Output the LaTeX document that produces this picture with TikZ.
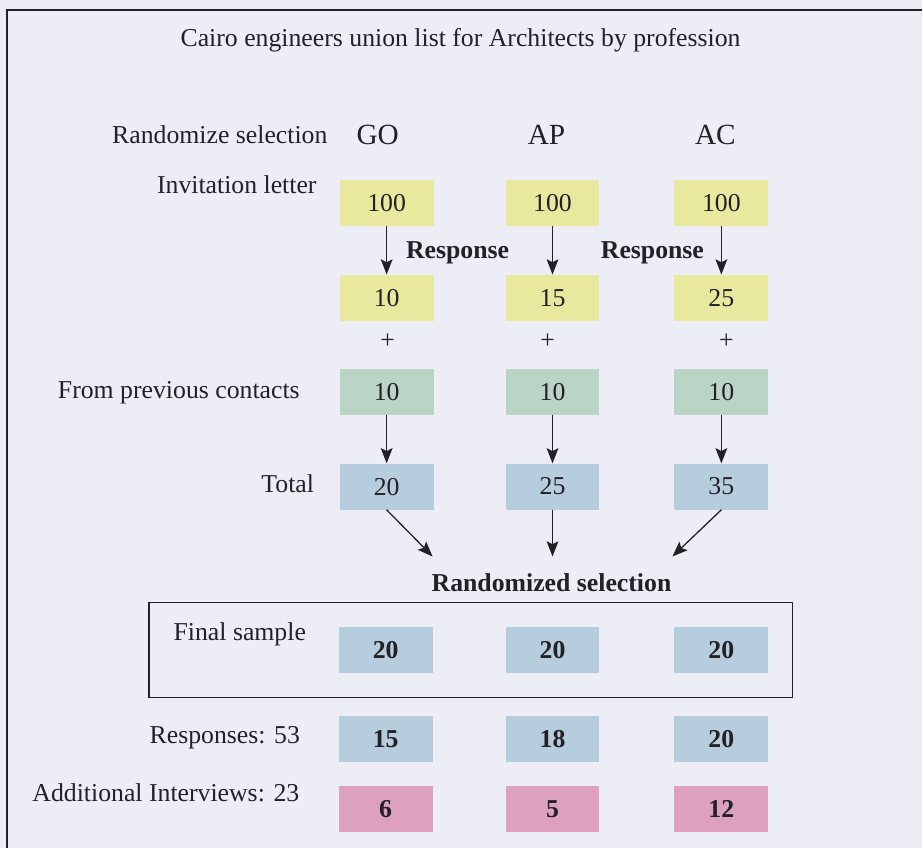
\documentclass[tikz,border=0pt]{standalone}
\usepackage{fontspec}
\setmainfont{Liberation Serif}
\usepackage{tikz}
\usetikzlibrary{positioning,arrows.meta}
\definecolor{pagebg}{RGB}{237,237,246}
\definecolor{invyellow}{RGB}{232,232,158}
\definecolor{prevgreen}{RGB}{186,212,198}
\definecolor{totblue}{RGB}{182,205,222}
\definecolor{addpink}{RGB}{221,160,192}
\definecolor{ink}{RGB}{35,32,38}

\begin{document}
\begin{tikzpicture}[x=0.3mm,y=-0.3mm,
    txt/.style={font=\fontsize{22}{26}\selectfont, text=ink, inner sep=0pt},
    boldtxt/.style={font=\fontsize{22}{26}\selectfont\bfseries, text=ink, inner sep=0pt},
    cell/.style={txt, minimum width=28.2mm, minimum height=13.8mm},
    boldcell/.style={boldtxt, minimum width=28.2mm, minimum height=13.8mm},
    arr/.style={draw=ink, line width=1.1pt, -{Stealth[length=13pt,width=10pt,inset=2.5pt]}}]

    % Page and frame
    \fill[pagebg] (0,0) rectangle (923,849);
    \draw[ink, line width=1.4pt] (923,10) -- (7,10) -- (7,849);

    % Header
    \node[txt] (title) at (461,40) {Cairo engineers union list for Architects by profession};
    \node[txt] (randsel) at (220,135) {Randomize selection};
    \node[txt, font=\fontsize{25}{30}\selectfont] (go) at (378,135) {GO};
    \node[txt, font=\fontsize{25}{30}\selectfont] (ap) at (547,135) {AP};
    \node[txt, font=\fontsize{25}{30}\selectfont] (ac) at (716,135) {AC};
    \node[txt] (invlabel) at (237,185) {Invitation letter};

    % Invitation letters
    \node[cell, fill=invyellow] (inv1) at (387,203) {100};
    \node[cell, fill=invyellow] (inv2) at (553,203) {100};
    \node[cell, fill=invyellow] (inv3) at (722,203) {100};

    % Responses to the letter
    \node[cell, fill=invyellow] (ret1) at (387,298) {10};
    \node[cell, fill=invyellow] (ret2) at (553,298) {15};
    \node[cell, fill=invyellow] (ret3) at (722,298) {25};
    \node[boldtxt] (retlabel1) at (458,253) {Response};
    \node[boldtxt] (retlabel2) at (653,253) {Response};
    \draw[arr] (inv1) -- (ret1);
    \draw[arr] (inv2) -- (ret2);
    \draw[arr] (inv3) -- (ret3);

    % Plus signs
    \node[txt] (plus1) at (388,342) {+};
    \node[txt] (plus2) at (548,342) {+};
    \node[txt] (plus3) at (727,342) {+};

    % Previous contacts
    \node[txt] (prevlabel) at (179,393) {From previous contacts};
    \node[cell, fill=prevgreen] (prev1) at (387,392) {10};
    \node[cell, fill=prevgreen] (prev2) at (553,392) {10};
    \node[cell, fill=prevgreen] (prev3) at (722,392) {10};

    % Totals
    \node[txt] (totlabel) at (288,484) {Total};
    \node[cell, fill=totblue] (tot1) at (387,487) {20};
    \node[cell, fill=totblue] (tot2) at (553,487) {25};
    \node[cell, fill=totblue] (tot3) at (722,487) {35};
    \draw[arr] (prev1) -- (tot1);
    \draw[arr] (prev2) -- (tot2);
    \draw[arr] (prev3) -- (tot3);

    % Randomized selection
    \node[boldtxt] (randomized) at (552,583) {Randomized selection};
    \coordinate (sel1) at (433,557);
    \coordinate (sel2) at (553,557);
    \coordinate (sel3) at (673,557);
    \draw[arr] (tot1.south) -- (sel1);
    \draw[arr] (tot2.south) -- (sel2);
    \draw[arr] (tot3.south) -- (sel3);

    % Final sample
    \node[draw=ink, line width=1.2pt, inner sep=0pt, minimum width=193.2mm, minimum height=28.5mm] (finalbox) at (471,650.5) {};
    \node[txt] (finlabel) at (240,635) {Final sample};
    \node[boldcell, fill=totblue] (fin1) at (386,651) {20};
    \node[boldcell, fill=totblue] (fin2) at (553,651) {20};
    \node[boldcell, fill=totblue] (fin3) at (722,651) {20};

    % Responses and interviews
    \node[txt] (rsplabel) at (225,738) {Responses: 53};
    \node[boldcell, fill=totblue] (rsp1) at (386,740) {15};
    \node[boldcell, fill=totblue] (rsp2) at (553,740) {18};
    \node[boldcell, fill=totblue] (rsp3) at (722,740) {20};
    \node[txt] (addlabel) at (166,793) {Additional Interviews: 23};
    \node[boldcell, fill=addpink] (add1) at (386,810) {6};
    \node[boldcell, fill=addpink] (add2) at (553,810) {5};
    \node[boldcell, fill=addpink] (add3) at (722,810) {12};
\end{tikzpicture}
\end{document}
